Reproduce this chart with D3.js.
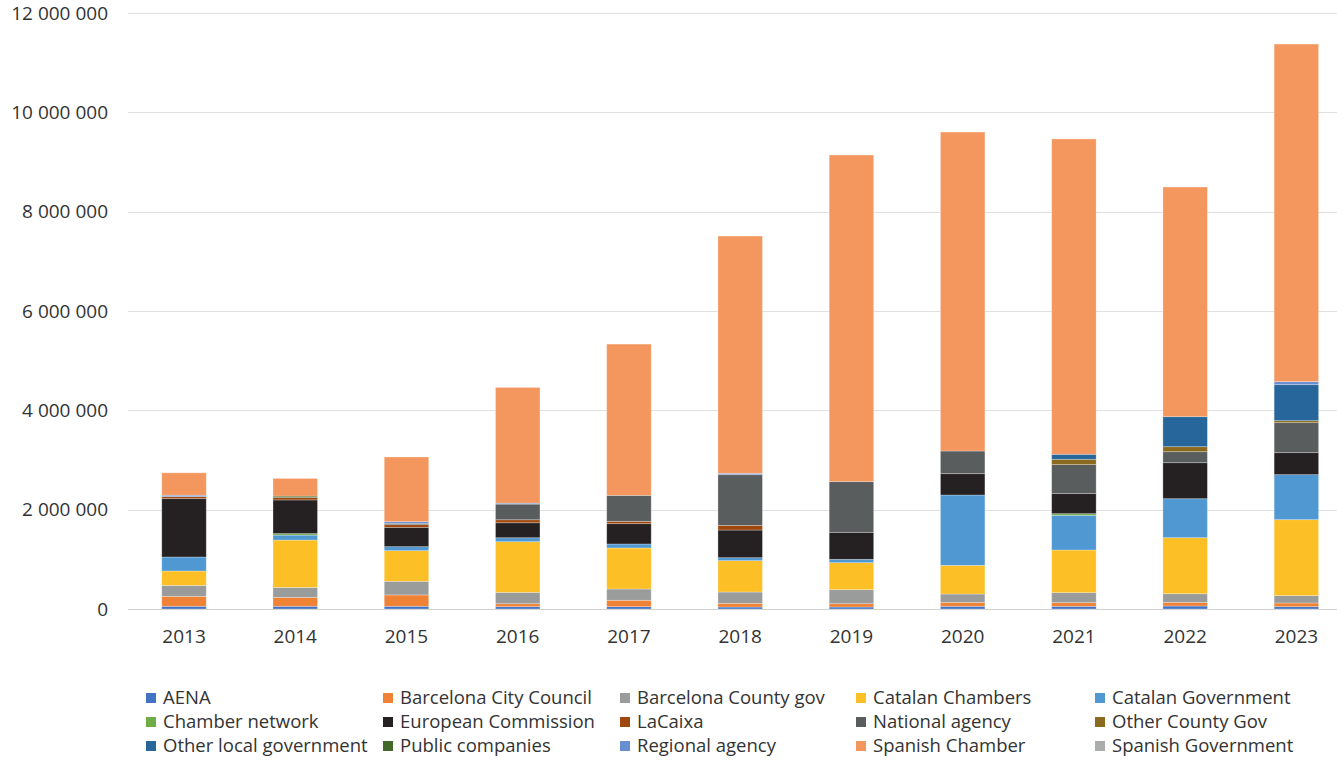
<!DOCTYPE html>
<html><head><meta charset="utf-8">
<script src="https://cdn.jsdelivr.net/npm/d3@7"></script>
<style>
html,body{margin:0;padding:0;background:#fff;}
text{font-family:"Open Sans",sans-serif;fill:#333;}
</style></head>
<body>
<svg id="chart" width="1337" height="762"></svg>
<script>
const years = ["2013","2014","2015","2016","2017","2018","2019","2020","2021","2022","2023"];
const seriesNames = ["AENA","Barcelona City Council","Barcelona County gov","Catalan Chambers","Catalan Government","Chamber network","European Commission","LaCaixa","National agency","Other County Gov","Other local government","Public companies","Regional agency","Spanish Chamber","Spanish Government"];
const seriesColors = ["#4472C4","#F08236","#9A9C9C","#FDBF26","#4F98D2","#70AD47","#252122","#9E480E","#595D5D","#8B6A1F","#27669A","#43682B","#698ED0","#F4975F","#ABADAD"];
const aena        = [55000,55000,55000,47000,47000,40000,40000,54000,54000,60000,47000];
const bcnCity     = [200000,180000,228000,60000,128000,74000,67000,80000,74000,74000,74000];
const bcnCounty   = [220000,200000,275000,228000,228000,228000,282000,168000,201000,174000,148000];
const catChambers = [290000,953000,617000,1020000,826000,631000,544000,577000,859000,1128000,1530000];
const catGov      = [282000,100000,80000,80000,80000,60000,67000,1416000,698000,785000,906000];
const chamberNet  = [0,30000,0,0,0,0,0,0,34000,0,0];
const euroComm    = [1175000,678000,389000,302000,409000,557000,544000,430000,403000,725000,443000];
const laCaixa     = [40000,47000,54000,60000,47000,94000,0,0,0,0,0];
const natAgency   = [0,0,27000,315000,523000,1020000,1020000,456000,584000,221000,604000];
const otherCounty = [0,0,0,0,0,0,0,0,107000,101000,40000];
const otherLocal  = [0,0,0,0,0,0,0,0,101000,604000,725000];
const publicComp  = [0,30000,0,0,0,0,0,0,0,0,0];
const regAgency   = [30000,0,34000,20000,0,27000,0,0,0,0,60000];
const spanishCh   = [450000,356000,1302000,2329000,3046000,4778000,6577000,6422000,6349000,4624000,6798000];
const spanishGov  = [0,0,0,0,0,0,0,0,0,0,0];
const yTicks = [0,2000000,4000000,6000000,8000000,10000000,12000000];

const seriesValues = [aena,bcnCity,bcnCounty,catChambers,catGov,chamberNet,euroComm,laCaixa,natAgency,otherCounty,otherLocal,publicComp,regAgency,spanishCh,spanishGov];
const table = years.map((y,i)=>{const o={year:y}; seriesNames.forEach((s,j)=>o[s]=seriesValues[j][i]); return o;});

const svg = d3.select("#chart");
const x = d3.scaleBand().domain(years).range([128.4,1352]).paddingInner(0.6).paddingOuter(0.3);
const y = d3.scaleLinear().domain([0,12000000]).range([609,13]);
const fmt = v => d3.format(",")(v).replace(/,/g," ");

// gridlines
svg.append("g").selectAll("line").data(yTicks).join("line")
  .attr("x1",128).attr("x2",1337).attr("y1",d=>Math.round(y(d))+0.5).attr("y2",d=>Math.round(y(d))+0.5)
  .attr("stroke",d=>d===0?"#d0d0d0":"#e0e0e0").attr("stroke-width",1);

// y labels
const yAxis = d3.axisLeft(y).tickValues(yTicks).tickFormat(fmt).tickSize(0).tickPadding(0);
const ya = svg.append("g").attr("transform","translate(108,0)").call(yAxis);
ya.select(".domain").remove();
ya.selectAll("text").style("font-size","19px").style("font-family","'Open Sans',sans-serif").attr("fill","#333");

// stacks
const stack = d3.stack().keys(seriesNames)(table);
svg.append("g").selectAll("g").data(stack).join("g")
  .attr("fill",(d,i)=>seriesColors[i])
  .selectAll("rect").data(d=>d.filter(p=>p[1]-p[0]>0)).join("rect")
  .attr("x",d=>x(d.data.year)).attr("width",x.bandwidth())
  .attr("y",d=>y(d[1])).attr("height",d=>y(d[0])-y(d[1]))
  .attr("stroke","#ffffff").attr("stroke-opacity",0.35).attr("stroke-width",0.8);

// x labels
const xAxis = d3.axisBottom(x).tickSize(0).tickPadding(0);
const xa = svg.append("g").attr("transform","translate(0,643)").call(xAxis);
xa.select(".domain").remove();
xa.selectAll("text").attr("dy","0").style("font-size","19px").style("font-family","'Open Sans',sans-serif").attr("fill","#333");

// legend
const colX = [146,383,620,856,1095];
const rowY = [698,722,746];
const lg = svg.append("g").selectAll("g").data(seriesNames).join("g")
  .attr("transform",(d,i)=>`translate(${colX[i%5]},${rowY[Math.floor(i/5)]})`);
lg.append("rect").attr("x",0).attr("y",-5).attr("width",10).attr("height",10).attr("fill",(d,i)=>seriesColors[i]);
lg.append("text").attr("x",17).attr("y",0).attr("dy","0.35em").style("font-size","18.5px").text(d=>d);
</script>
</body></html>
